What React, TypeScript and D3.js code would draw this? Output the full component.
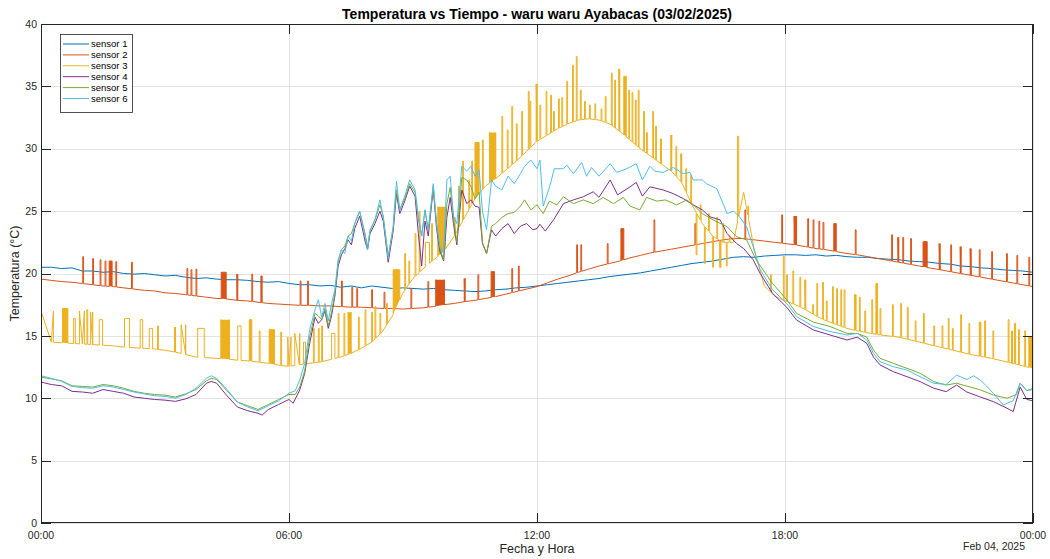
import React from 'react';
import * as d3 from 'd3';

type Pt = [number, number];
// pulse: [start hour, end hour, top value, dense (1 = filled block)]
type Pulse = [number, number, number, number];

const STEP_HOURS = 0.25;

// sensor 1, every 15 minutes from 00:00 to 24:00
const SENSOR1: number[] = [
  20.5, 20.5, 20.4, 20.45, 20.2, 20.2, 20.1, 20.15, 20.0, 19.95, 20.0, 19.9, 19.8, 19.85, 19.7, 19.6, 19.65, 19.55, 19.5, 19.5, 19.45, 19.35, 19.3, 19.35, 19.2,
  19.1, 19.1, 19.0, 19.05, 18.9, 19.0, 18.85, 19.0, 18.9, 18.8, 18.85, 18.8, 18.75, 18.8, 18.7, 18.65, 18.6, 18.55, 18.6, 18.7, 18.75, 18.85, 18.9, 19.0,
  19.1, 19.2, 19.3, 19.4, 19.5, 19.6, 19.75, 19.85, 19.95, 20.05, 20.2, 20.35, 20.5, 20.65, 20.8, 20.9, 21.0, 21.15, 21.3, 21.35, 21.3, 21.4, 21.45, 21.5,
  21.5, 21.45, 21.5, 21.4, 21.45, 21.35, 21.3, 21.3, 21.2, 21.15, 21.1, 21.0, 20.95, 20.9, 20.8, 20.75, 20.6, 20.55, 20.45, 20.4, 20.3, 20.25, 20.2, 20.1,
];

// sensor 2 base level, every 15 minutes
const SENSOR2_BASE: number[] = [
  19.55, 19.45, 19.35, 19.3, 19.2, 19.1, 19.0, 18.95, 18.85, 18.75, 18.65, 18.6, 18.45, 18.4, 18.3, 18.2, 18.1, 18.0, 17.95, 17.85, 17.8, 17.7, 17.6, 17.55, 17.5,
  17.45, 17.45, 17.4, 17.4, 17.35, 17.3, 17.3, 17.25, 17.2, 17.2, 17.15, 17.2, 17.25, 17.35, 17.5, 17.6, 17.75, 17.85, 18.0, 18.15, 18.35, 18.55, 18.75, 18.95,
  19.25, 19.55, 19.8, 20.1, 20.35, 20.6, 20.8, 21.0, 21.25, 21.45, 21.65, 21.8, 21.95, 22.1, 22.25, 22.4, 22.55, 22.7, 22.8, 22.8, 22.7, 22.6, 22.5, 22.4,
  22.3, 22.15, 22.0, 21.9, 21.75, 21.6, 21.5, 21.35, 21.2, 21.05, 20.9, 20.75, 20.6, 20.45, 20.3, 20.15, 20.0, 19.85, 19.7, 19.55, 19.4, 19.25, 19.1, 18.95,
];

const SENSOR2_SPIKES: Pulse[] = [
  [1.01, 1.03, 21.35, 0], [1.25, 1.27, 21.2, 0], [1.43, 1.45, 21.1, 0], [1.55, 1.57, 21.0, 0], [1.65, 1.72, 21.0, 1], [1.81, 1.83, 20.95, 0],
  [2.19, 2.21, 20.9, 0], [3.53, 3.55, 20.4, 0], [3.63, 3.65, 20.3, 0], [3.75, 3.77, 20.35, 0], [4.36, 4.48, 20.1, 1], [4.74, 4.76, 19.95, 0],
  [5.1, 5.12, 19.95, 0], [5.32, 5.35, 19.8, 1],
  [6.27, 6.29, 19.4, 0], [6.45, 6.47, 19.4, 0], [7.27, 7.29, 19.4, 0], [7.52, 7.54, 18.9, 0], [7.64, 7.66, 18.8, 0], [8.0, 8.02, 18.7, 0],
  [8.3, 8.32, 18.5, 0], [8.95, 8.97, 18.8, 0], [9.36, 9.38, 19.35, 0], [9.55, 9.76, 19.5, 1], [10.24, 10.26, 19.6, 0], [10.57, 10.59, 19.9, 0],
  [10.89, 10.97, 20.15, 1], [11.39, 11.41, 20.4, 0], [11.55, 11.57, 20.6, 0],
  [12.96, 12.98, 22.3, 0], [13.06, 13.08, 22.3, 0], [13.7, 13.72, 22.4, 0], [14.03, 14.1, 23.6, 1], [14.83, 14.85, 24.3, 0], [15.82, 15.84, 24.0, 0],
  [17.03, 17.05, 25.1, 0], [17.92, 17.94, 24.7, 0],
  [18.22, 18.28, 24.6, 1], [18.55, 18.57, 24.4, 0], [18.68, 18.7, 24.3, 0], [18.82, 18.84, 24.2, 0], [18.92, 18.94, 24.1, 0], [19.18, 19.24, 24.0, 1],
  [19.7, 19.72, 23.5, 0], [20.58, 20.6, 23.1, 0], [20.73, 20.75, 22.9, 0], [20.85, 20.87, 22.9, 0], [21.04, 21.06, 22.8, 0], [21.34, 21.44, 22.55, 1],
  [21.73, 21.75, 22.4, 0], [22.01, 22.03, 22.3, 0], [22.24, 22.26, 22.15, 0], [22.48, 22.5, 22.0, 0], [22.7, 22.72, 21.9, 0], [23.0, 23.02, 21.75, 0],
  [23.36, 23.38, 21.6, 0], [23.61, 23.63, 21.45, 0], [23.9, 23.92, 21.3, 0],
];

// sensor 3 base level, every 15 minutes
const SENSOR3_BASE: number[] = [
  14.6, 14.5, 14.45, 14.4, 14.35, 14.3, 14.25, 14.2, 14.1, 14.05, 14.0, 13.95, 13.85, 13.7, 13.5, 13.3, 13.25, 13.2, 13.15, 13.05, 13.0, 12.9, 12.8, 12.65, 12.55,
  12.7, 12.8, 12.9, 13.1, 13.3, 13.6, 14.0, 14.5, 15.3, 16.6, 18.4, 19.6, 20.4, 21.1, 21.8, 23.0, 24.5, 26.0, 27.0, 27.6, 28.3, 29.0, 29.8, 30.6,
  31.1, 31.6, 32.0, 32.3, 32.4, 32.3, 32.0, 31.4, 30.7, 30.0, 29.4, 28.8, 28.2, 27.3, 25.5, 24.0, 23.0, 22.5, 22.5, 26.5, 22.0, 19.0, 18.2, 17.8,
  17.5, 17.1, 16.6, 16.2, 15.9, 15.6, 15.4, 15.25, 15.1, 15.0, 14.9, 14.7, 14.5, 14.3, 14.1, 13.9, 13.7, 13.5, 13.35, 13.2, 13.0, 12.8, 12.6, 12.4,
];

const SENSOR3_PULSES: Pulse[] = [
  [0.0, 0.3, 17.0, 0], [0.52, 0.65, 17.2, 1], [0.79, 0.83, 16.4, 0], [0.93, 1.05, 17.0, 0], [1.11, 1.13, 17.1, 0], [1.2, 1.25, 16.9, 0],
  [1.41, 1.49, 16.3, 0], [2.02, 2.14, 16.4, 0], [2.4, 2.46, 16.3, 0], [2.62, 2.7, 15.6, 0], [2.82, 2.84, 15.8, 0], [3.23, 3.25, 15.7, 0],
  [3.39, 3.5, 15.9, 0], [3.79, 3.95, 15.6, 0], [4.35, 4.56, 16.3, 1], [4.76, 4.84, 15.8, 0], [5.04, 5.1, 16.3, 1], [5.28, 5.3, 15.4, 0],
  [5.52, 5.65, 15.5, 1], [5.8, 5.82, 15.3, 0], [5.97, 6.05, 14.9, 0],
  [6.14, 6.26, 15.2, 0], [6.35, 6.4, 14.5, 0], [6.59, 6.61, 15.6, 0], [6.71, 6.73, 15.6, 0], [6.79, 6.81, 15.8, 0], [7.03, 7.11, 15.2, 0],
  [7.19, 7.21, 16.8, 0], [7.33, 7.35, 16.8, 0], [7.43, 7.5, 16.9, 1], [7.68, 7.7, 16.5, 0], [7.84, 7.86, 17.1, 0], [8.0, 8.02, 16.9, 0],
  [8.08, 8.1, 17.35, 0], [8.2, 8.22, 16.8, 0], [8.36, 8.38, 17.6, 0], [8.52, 8.68, 20.3, 1], [8.8, 8.82, 21.6, 0], [8.9, 8.92, 21.0, 0],
  [9.05, 9.07, 23.2, 0], [9.15, 9.17, 25.0, 0],
  [9.3, 9.4, 22.5, 0], [9.45, 9.47, 24.0, 0], [9.6, 9.78, 25.35, 1], [10.0, 10.02, 24.5, 0], [10.1, 10.12, 27.0, 0], [10.2, 10.22, 29.0, 0],
  [10.35, 10.37, 27.5, 0], [10.42, 10.44, 29.0, 0], [10.5, 10.6, 30.5, 1], [10.68, 10.7, 30.7, 0], [10.85, 11.0, 31.3, 1],
  [11.15, 11.17, 32.6, 0], [11.28, 11.3, 31.5, 0], [11.39, 11.41, 33.4, 0], [11.5, 11.52, 32.0, 0], [11.63, 11.65, 33.0, 0],
  [11.79, 11.81, 34.6, 0], [11.83, 11.85, 33.8, 0], [11.98, 12.0, 35.2, 0],
  [12.07, 12.09, 33.5, 0], [12.22, 12.24, 34.6, 0], [12.33, 12.35, 34.3, 0], [12.4, 12.42, 33.0, 0], [12.52, 12.54, 34.0, 0], [12.6, 12.62, 34.1, 0],
  [12.72, 12.74, 35.4, 0], [12.86, 12.88, 36.7, 0], [12.95, 12.97, 37.4, 0], [13.05, 13.07, 34.7, 0], [13.15, 13.17, 33.8, 0], [13.27, 13.29, 33.5, 0],
  [13.4, 13.42, 33.6, 0], [13.55, 13.57, 33.2, 0], [13.65, 13.67, 34.2, 0],
  [13.8, 13.82, 36.05, 0], [13.88, 13.9, 35.5, 0], [13.98, 14.0, 36.4, 0], [14.1, 14.16, 35.8, 1], [14.22, 14.24, 34.7, 0], [14.3, 14.32, 34.5, 0],
  [14.38, 14.4, 33.9, 0], [14.45, 14.47, 34.7, 0],
  [14.58, 14.6, 33.0, 0], [14.65, 14.67, 31.3, 0], [14.8, 14.82, 33.0, 0], [14.87, 14.89, 31.8, 0], [14.99, 15.01, 30.8, 0], [15.24, 15.26, 31.1, 0],
  [15.36, 15.38, 30.2, 0], [15.48, 15.5, 29.6, 0], [15.6, 15.62, 28.4, 0], [15.72, 15.74, 27.9, 0],
  [15.85, 15.87, 21.5, 0], [15.95, 15.97, 25.5, 0], [16.05, 16.07, 20.8, 0], [16.15, 16.17, 24.8, 0], [16.25, 16.27, 20.5, 0], [16.35, 16.37, 24.5, 0],
  [16.42, 16.45, 20.5, 1], [16.5, 16.52, 24.0, 0], [16.58, 16.6, 20.6, 0], [16.65, 16.67, 23.0, 0], [16.85, 16.88, 31.0, 0], [17.1, 17.12, 25.4, 0],
  [17.65, 17.67, 19.9, 0], [17.96, 17.98, 21.4, 0], [18.04, 18.06, 19.9, 0], [18.19, 18.21, 20.2, 0], [18.36, 18.38, 19.7, 0], [18.48, 18.5, 19.5, 0],
  [18.67, 18.69, 17.5, 0], [18.77, 18.79, 19.2, 0], [18.91, 18.93, 19.3, 0], [19.0, 19.02, 17.8, 0], [19.15, 19.17, 18.95, 0], [19.25, 19.27, 18.8, 0],
  [19.35, 19.37, 18.7, 0], [19.43, 19.45, 18.7, 0], [19.68, 19.72, 18.3, 1], [19.8, 19.82, 18.1, 0], [19.93, 19.95, 17.0, 0], [20.1, 20.12, 17.9, 0],
  [20.2, 20.24, 19.2, 1], [20.3, 20.32, 17.2, 0], [20.6, 20.62, 17.5, 0], [20.8, 20.82, 17.6, 0], [20.96, 20.98, 17.3, 0], [21.15, 21.17, 16.2, 0],
  [21.35, 21.37, 16.8, 0], [21.6, 21.62, 15.8, 0], [21.8, 21.82, 15.8, 0], [21.95, 21.97, 16.4, 0], [22.05, 22.07, 15.6, 0], [22.25, 22.27, 16.7, 0],
  [22.45, 22.47, 16.0, 0], [22.7, 22.74, 16.1, 1], [22.83, 22.85, 16.2, 0], [23.03, 23.05, 15.4, 0], [23.4, 23.42, 16.3, 0], [23.48, 23.5, 15.4, 0],
  [23.55, 23.58, 16.0, 1], [23.65, 23.67, 15.5, 0], [23.8, 23.82, 15.4, 0], [23.9, 24.0, 15.0, 1],
];

// sensors 4-6 as [hour, °C] readings
const SENSOR4: Pt[] = [
  [0, 11.3], [0.25, 11.1], [0.5, 11.0], [0.75, 10.55], [1, 10.5], [1.25, 10.4], [1.5, 10.7], [1.75, 10.55], [2, 10.4], [2.25, 10.1], [2.5, 10.0], [2.75, 9.9],
  [3, 9.85], [3.25, 9.75], [3.5, 9.95], [3.75, 10.3], [4, 11.2], [4.12, 11.35], [4.25, 11.2], [4.5, 10.2], [4.75, 9.3], [5, 9.0], [5.25, 8.8], [5.35, 8.65],
  [5.5, 9.1], [5.75, 9.5], [6, 9.9],
  [6.1, 9.6], [6.26, 10.66], [6.38, 12.0], [6.5, 14.4], [6.63, 16.5], [6.71, 16.0], [6.79, 16.3], [6.87, 17.0], [6.95, 15.6], [7.03, 16.6], [7.11, 18.2],
  [7.19, 20.6], [7.27, 21.5], [7.35, 22.0], [7.43, 22.7], [7.51, 22.3], [7.59, 23.6], [7.71, 24.6], [7.84, 22.6], [7.9, 21.9], [7.96, 23.2], [8.08, 24.0],
  [8.2, 25.0], [8.28, 24.2], [8.4, 20.9], [8.52, 23.4], [8.6, 26.4], [8.68, 24.8], [8.8, 25.8], [8.92, 27.0], [9.05, 26.2], [9.13, 23.2], [9.21, 20.6],
  [9.29, 24.2], [9.37, 23.0], [9.49, 26.8], [9.57, 23.6], [9.65, 21.8], [9.74, 21.0], [9.82, 24.5], [9.9, 26.1], [9.98, 24.0], [10.06, 22.3], [10.18, 26.7],
  [10.3, 25.6], [10.4, 25.9], [10.5, 25.4], [10.6, 25.3], [10.68, 22.4], [10.78, 21.6], [10.9, 23.5], [11.0, 23.0], [11.15, 23.6], [11.3, 24.0], [11.45, 23.2],
  [11.6, 23.8], [11.75, 24.0], [11.9, 23.5], [12.0, 23.6],
  [12.07, 23.95], [12.2, 23.4], [12.4, 24.3], [12.64, 25.6], [12.88, 25.9], [13.12, 26.15], [13.36, 26.55], [13.5, 26.1], [13.77, 27.5], [13.95, 26.3],
  [14.25, 26.95], [14.4, 27.3], [14.55, 26.2], [14.73, 26.95], [15.05, 26.7], [15.3, 26.4], [15.54, 26.0], [15.78, 25.5], [16.0, 25.1], [16.18, 24.55],
  [16.43, 24.3], [16.6, 23.2], [16.83, 22.4], [17.0, 22.0], [17.23, 21.1], [17.4, 20.0], [17.7, 18.4], [18.04, 17.3], [18.28, 16.27],
  [18.69, 15.47], [19.09, 15.07], [19.5, 14.67], [19.75, 14.9], [19.98, 14.4], [20.14, 13.3], [20.3, 12.67], [20.62, 12.13], [20.95, 11.73], [21.27, 11.33],
  [21.6, 10.8], [21.9, 10.53], [22.15, 11.06], [22.4, 10.5], [22.7, 10.13], [23.04, 9.73], [23.37, 9.2], [23.52, 8.93], [23.69, 10.9], [23.85, 9.9], [24, 9.8],
];

const SENSOR5: Pt[] = [
  [0, 11.7], [0.25, 11.55], [0.5, 11.4], [0.75, 11.0], [1, 10.95], [1.25, 10.9], [1.5, 11.1], [1.75, 11.0], [2, 10.8], [2.25, 10.55], [2.5, 10.4], [2.75, 10.3],
  [3, 10.25], [3.25, 10.1], [3.5, 10.35], [3.75, 10.7], [4, 11.4], [4.12, 11.6], [4.25, 11.5], [4.5, 10.6], [4.75, 9.7], [5, 9.4], [5.25, 9.1], [5.5, 9.5],
  [5.75, 9.9], [6, 10.3],
  [6.15, 10.3], [6.26, 10.9], [6.38, 12.2], [6.5, 14.9], [6.63, 16.8], [6.71, 16.6], [6.79, 16.3], [6.87, 17.2], [6.95, 15.8], [7.03, 16.9], [7.11, 18.4],
  [7.19, 21.0], [7.27, 21.9], [7.35, 22.2], [7.43, 23.0], [7.51, 23.2], [7.59, 24.0], [7.71, 25.0], [7.84, 23.2], [7.9, 22.1], [7.96, 23.4], [8.08, 24.3],
  [8.2, 25.5], [8.28, 24.6], [8.4, 21.4], [8.52, 23.6], [8.6, 26.7], [8.68, 25.1], [8.8, 26.0], [8.92, 27.2], [9.05, 26.5], [9.13, 24.4], [9.21, 23.0],
  [9.29, 25.1], [9.37, 23.4], [9.49, 27.0], [9.57, 24.0], [9.65, 22.0], [9.74, 21.1], [9.82, 25.6], [9.9, 26.9], [9.98, 24.4], [10.06, 22.5], [10.18, 27.7],
  [10.3, 27.5], [10.4, 27.0], [10.5, 26.0], [10.6, 26.5], [10.68, 22.5], [10.78, 21.6], [10.9, 23.8], [11.0, 24.0], [11.15, 24.5], [11.3, 24.8], [11.45, 24.9],
  [11.6, 25.4], [11.7, 25.9], [11.85, 25.1], [12.0, 25.5],
  [12.15, 24.8], [12.3, 25.8], [12.48, 25.5], [12.64, 26.15], [12.88, 25.6], [13.12, 25.9], [13.36, 25.6], [13.6, 26.1], [13.85, 25.6], [14.09, 26.1],
  [14.25, 25.4], [14.49, 25.1], [14.65, 26.1], [14.9, 25.8], [15.1, 25.9], [15.38, 25.5], [15.62, 25.9], [15.78, 25.5], [16.0, 24.8], [16.26, 24.3],
  [16.6, 23.75], [16.83, 22.95], [17.07, 22.7], [17.3, 21.1], [17.7, 19.2], [18.04, 17.9], [18.28, 16.8],
  [18.69, 16.1], [19.09, 15.75], [19.5, 15.2], [19.75, 15.2], [19.98, 14.9], [20.14, 13.87], [20.3, 13.2], [20.62, 12.8], [20.95, 12.4], [21.27, 12.0],
  [21.6, 11.33], [21.9, 11.06], [22.15, 11.2], [22.48, 10.9], [22.7, 10.7], [23.04, 10.26], [23.37, 10.0], [23.6, 10.3], [23.69, 11.2], [23.85, 10.6], [24, 10.8],
];

const SENSOR6: Pt[] = [
  [0, 11.8], [0.25, 11.6], [0.5, 11.35], [0.75, 10.95], [1, 10.85], [1.25, 10.8], [1.5, 11.0], [1.75, 10.9], [2, 10.7], [2.25, 10.5], [2.5, 10.35], [2.75, 10.2],
  [3, 10.15], [3.25, 10.0], [3.5, 10.3], [3.75, 10.8], [4, 11.6], [4.12, 11.8], [4.25, 11.6], [4.5, 10.7], [4.75, 9.7], [5, 9.3], [5.25, 9.0], [5.5, 9.4],
  [5.75, 9.8], [6, 10.4],
  [6.15, 10.6], [6.26, 11.46], [6.38, 12.8], [6.5, 15.5], [6.63, 17.1], [6.71, 17.9], [6.79, 16.5], [6.87, 17.6], [6.95, 16.2], [7.03, 17.6], [7.11, 18.7],
  [7.19, 21.1], [7.27, 21.9], [7.35, 21.6], [7.43, 23.0], [7.51, 22.6], [7.59, 24.0], [7.71, 25.0], [7.84, 23.0], [7.9, 21.9], [7.96, 23.5], [8.08, 24.3],
  [8.2, 25.9], [8.28, 24.5], [8.4, 21.2], [8.52, 23.8], [8.6, 27.4], [8.68, 25.1], [8.8, 26.2], [8.92, 27.5], [9.05, 26.7], [9.13, 24.6], [9.21, 23.0],
  [9.29, 25.1], [9.37, 23.5], [9.49, 27.2], [9.57, 24.0], [9.65, 22.2], [9.74, 21.6], [9.82, 27.5], [9.9, 27.8], [9.98, 24.6], [10.06, 24.0], [10.18, 28.6],
  [10.3, 28.2], [10.4, 28.6], [10.5, 27.8], [10.6, 28.3], [10.68, 25.0], [10.78, 23.5], [10.9, 27.5], [11.0, 27.0], [11.15, 26.7], [11.3, 27.8], [11.45, 27.2],
  [11.6, 28.0], [11.7, 28.6], [11.85, 29.1], [12.0, 28.4],
  [12.07, 29.1], [12.15, 25.4], [12.3, 26.9], [12.42, 28.4], [12.64, 28.4], [12.72, 28.7], [12.88, 28.0], [13.08, 28.9], [13.2, 27.8], [13.32, 28.5],
  [13.5, 27.8], [13.77, 28.8], [13.93, 28.1], [14.17, 28.4], [14.4, 28.8], [14.55, 27.5], [14.73, 28.6], [14.85, 28.2], [15.05, 28.1], [15.3, 28.5],
  [15.54, 28.0], [15.7, 28.1], [15.78, 27.5], [16.0, 27.5], [16.1, 27.2], [16.35, 26.8], [16.6, 24.8], [16.75, 25.0], [16.9, 24.55], [17.07, 23.75],
  [17.23, 22.15], [17.4, 20.3], [17.7, 18.7], [18.04, 17.6], [18.28, 16.55],
  [18.69, 15.75], [19.09, 15.35], [19.5, 15.07], [19.75, 15.2], [19.98, 14.67], [20.14, 13.6], [20.3, 12.93], [20.62, 12.53], [20.95, 12.26], [21.27, 11.73],
  [21.6, 11.2], [21.9, 11.1], [22.15, 11.86], [22.4, 11.5], [22.56, 11.8], [22.75, 11.4], [23.04, 10.4], [23.28, 9.46], [23.52, 9.8], [23.69, 11.2],
  [23.85, 10.6], [24, 10.7],
];

const SENSOR_NAMES = ['sensor 1', 'sensor 2', 'sensor 3', 'sensor 4', 'sensor 5', 'sensor 6'];
const SENSOR_COLORS = ['#0072BD', '#D95319', '#EDB120', '#7E2F8E', '#77AC30', '#4DBEEE'];

const Y_TICKS = [0, 5, 10, 15, 20, 25, 30, 35, 40];
const X_TICKS = [0, 6, 12, 18, 24];
const X_TICK_LABELS = ['00:00', '06:00', '12:00', '18:00', '00:00'];

const TITLE = 'Temperatura vs Tiempo - waru waru Ayabacas (03/02/2025)';
const X_LABEL = 'Fecha y Hora';
const Y_LABEL = 'Temperatura (°C)';
const DATE_NOTE = 'Feb 04, 2025';

const FONT = '"Liberation Sans", Arial, Helvetica, sans-serif';
const AXIS_COLOR = '#262626';
const GRID_COLOR = '#e3e3e3';

const byHour = d3.bisector((d: Pt) => d[0]).left;

// level of a series at a given hour (where a pulse leaves / rejoins the line)
function levelAt(s: Pt[], t: number): number {
  const i = byHour(s, t);
  if (i <= 0) return s[0][1];
  if (i >= s.length) return s[s.length - 1][1];
  const [t0, v0] = s[i - 1];
  const [t1, v1] = s[i];
  if (t1 === t0) return v1;
  return v0 + ((v1 - v0) * (t - t0)) / (t1 - t0);
}

function withPulses(base: Pt[], pulses: Pulse[]): Pt[] {
  const pts: Pt[] = base.slice();
  pulses.forEach(([t0, t1, top]) => {
    pts.push([t0, levelAt(base, t0)], [t0, top], [t1, top], [t1, levelAt(base, t1)]);
  });
  return pts.sort((a, b) => a[0] - b[0]);
}

const quarterHourly = (vals: number[]): Pt[] => vals.map((v, i) => [i * STEP_HOURS, v]);

export default function App() {
  const W = 1050;
  const H = 559;
  const plot = { left: 41, top: 24, right: 1033, bottom: 523 };

  const x = d3.scaleLinear().domain([0, 24]).range([plot.left, plot.right]);
  const y = d3.scaleLinear().domain([0, 40]).range([plot.bottom, plot.top]);
  const line = d3.line<Pt>().x((d) => x(d[0])).y((d) => y(d[1]));

  const base2 = quarterHourly(SENSOR2_BASE);
  const base3 = quarterHourly(SENSOR3_BASE);
  const series: Pt[][] = [
    quarterHourly(SENSOR1),
    withPulses(base2, SENSOR2_SPIKES),
    withPulses(base3, SENSOR3_PULSES),
    SENSOR4,
    SENSOR5,
    SENSOR6,
  ];

  const blocks = (base: Pt[], pulses: Pulse[]) =>
    pulses
      .filter((p) => p[3] === 1)
      .map(([t0, t1, top]) => {
        const poly: Pt[] = [[t0, levelAt(base, t0)], [t0, top], [t1, top], [t1, levelAt(base, t1)]];
        return line(poly) + 'Z';
      });

  const blocks2 = blocks(base2, SENSOR2_SPIKES);
  const blocks3 = blocks(base3, SENSOR3_PULSES);

  const tickLen = 10;
  const legend = { x: 60, y: 34, w: 72, h: 78, row: 10.9 };

  return (
    <svg
      width={W}
      height={H}
      viewBox={`0 0 ${W} ${H}`}
      style={{ position: 'absolute', left: 0, top: 0, background: '#fff' }}
      fontFamily={FONT}
    >
      <defs>
        <clipPath id="plot-area">
          <rect x={plot.left} y={plot.top} width={plot.right - plot.left} height={plot.bottom - plot.top} />
        </clipPath>
      </defs>
      <rect x={0} y={0} width={W} height={H} fill="#fff" />

      {/* grid */}
      <g stroke={GRID_COLOR} strokeWidth={1}>
        {Y_TICKS.map((v) => (
          <line key={'gy' + v} x1={plot.left} x2={plot.right} y1={Math.round(y(v)) + 0.5} y2={Math.round(y(v)) + 0.5} />
        ))}
        {X_TICKS.map((t) => (
          <line key={'gx' + t} x1={Math.round(x(t)) + 0.5} x2={Math.round(x(t)) + 0.5} y1={plot.top} y2={plot.bottom} />
        ))}
      </g>

      {/* series */}
      <g clipPath="url(#plot-area)" fill="none" strokeWidth={1} strokeLinejoin="round">
        <path d={line(series[0]) || ''} stroke={SENSOR_COLORS[0]} />
        {blocks2.map((d, i) => (
          <path key={'b2' + i} d={d} fill={SENSOR_COLORS[1]} stroke="none" />
        ))}
        <path d={line(series[1]) || ''} stroke={SENSOR_COLORS[1]} />
        {blocks3.map((d, i) => (
          <path key={'b3' + i} d={d} fill={SENSOR_COLORS[2]} stroke="none" />
        ))}
        <path d={line(series[2]) || ''} stroke={SENSOR_COLORS[2]} />
        <path d={line(series[3]) || ''} stroke={SENSOR_COLORS[3]} />
        <path d={line(series[4]) || ''} stroke={SENSOR_COLORS[4]} />
        <path d={line(series[5]) || ''} stroke={SENSOR_COLORS[5]} />
      </g>

      {/* axes box and ticks */}
      <g stroke={AXIS_COLOR} strokeWidth={1} fill="none">
        <rect x={plot.left + 0.5} y={plot.top + 0.5} width={plot.right - plot.left - 1} height={plot.bottom - plot.top - 1} />
        {Y_TICKS.map((v) => {
          const yy = Math.round(y(v)) + 0.5;
          return (
            <g key={'ty' + v}>
              <line x1={plot.left} x2={plot.left + tickLen} y1={yy} y2={yy} />
              <line x1={plot.right - tickLen} x2={plot.right} y1={yy} y2={yy} />
            </g>
          );
        })}
        {X_TICKS.map((t) => {
          const xx = Math.round(x(t)) + 0.5;
          return (
            <g key={'tx' + t}>
              <line x1={xx} x2={xx} y1={plot.bottom} y2={plot.bottom - tickLen} />
              <line x1={xx} x2={xx} y1={plot.top} y2={plot.top + tickLen} />
            </g>
          );
        })}
      </g>

      {/* tick labels */}
      <g fill={AXIS_COLOR} fontSize={10.5}>
        {Y_TICKS.map((v) => (
          <text key={'ly' + v} x={plot.left - 4} y={y(v)} dy="0.35em" textAnchor="end">
            {v}
          </text>
        ))}
        {X_TICKS.map((t, i) => (
          <text key={'lx' + t} x={x(t)} y={plot.bottom + 16} textAnchor="middle">
            {X_TICK_LABELS[i]}
          </text>
        ))}
        <text x={1025} y={plot.bottom + 27} textAnchor="end">
          {DATE_NOTE}
        </text>
      </g>

      {/* axis labels and title */}
      <text x={(plot.left + plot.right) / 2} y={plot.bottom + 30} textAnchor="middle" fontSize={12.5} fill={AXIS_COLOR}>
        {X_LABEL}
      </text>
      <text
        transform={`translate(${19},${(plot.top + plot.bottom) / 2}) rotate(-90)`}
        textAnchor="middle"
        fontSize={12.5}
        fill={AXIS_COLOR}
      >
        {Y_LABEL}
      </text>
      <text x={(plot.left + plot.right) / 2} y={19} textAnchor="middle" fontSize={14} fontWeight="bold" fill="#000">
        {TITLE}
      </text>

      {/* legend */}
      <g>
        <rect x={legend.x + 0.5} y={legend.y + 0.5} width={legend.w} height={legend.h} fill="#fff" stroke={AXIS_COLOR} strokeWidth={0.8} />
        {SENSOR_NAMES.map((name, i) => {
          const ly = legend.y + 10 + i * legend.row;
          return (
            <g key={name}>
              <line x1={legend.x + 3} x2={legend.x + 29} y1={ly} y2={ly} stroke={SENSOR_COLORS[i]} strokeWidth={1} />
              <text x={legend.x + 31} y={ly} dy="0.35em" fontSize={9.5} fill="#000">
                {name}
              </text>
            </g>
          );
        })}
      </g>
    </svg>
  );
}
